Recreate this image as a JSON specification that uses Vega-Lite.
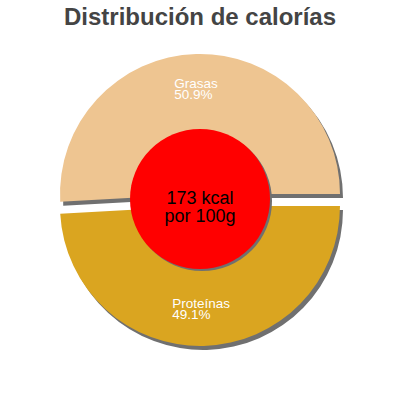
{
  "$schema": "https://vega.github.io/schema/vega-lite/v6.json",
  "width": 400,
  "height": 340,
  "padding": {"top": 6, "left": 0, "right": 0, "bottom": 0},
  "autosize": {"type": "pad"},
  "title": {
    "text": "Distribución de calorías",
    "font": "Liberation Sans",
    "fontSize": 24,
    "fontWeight": "bold",
    "color": "#444444",
    "anchor": "middle",
    "offset": 0
  },
  "config": {"view": {"stroke": null}},
  "datasets": {
    "slices": [
      {"nutrient": "Grasas", "share": 0.509},
      {"nutrient": "Proteínas", "share": 0.491}
    ],
    "energy": [
      {"label": ["173 kcal", "por 100g"]}
    ]
  },
  "layer": [
    {
      "data": {"name": "slices"},
      "mark": {"type": "arc", "outerRadius": 140, "xOffset": 3, "yOffset": -2, "fill": "#707070"},
      "encoding": {
        "theta": {"field": "share", "type": "quantitative", "stack": true, "scale": {"range": [-1.6266, 4.6566]}},
        "order": {"field": "nutrient", "type": "ordinal"},
        "opacity": {"condition": {"test": "datum.nutrient === 'Grasas'", "value": 1}, "value": 0}
      }
    },
    {
      "data": {"name": "slices"},
      "mark": {"type": "arc", "outerRadius": 140, "xOffset": 3, "yOffset": 10, "fill": "#707070"},
      "encoding": {
        "theta": {"field": "share", "type": "quantitative", "stack": true},
        "order": {"field": "nutrient", "type": "ordinal"},
        "opacity": {"condition": {"test": "datum.nutrient === 'Proteínas'", "value": 1}, "value": 0}
      }
    },
    {
      "data": {"name": "slices"},
      "mark": {"type": "arc", "outerRadius": 140, "yOffset": -6},
      "encoding": {
        "theta": {"field": "share", "type": "quantitative", "stack": true},
        "order": {"field": "nutrient", "type": "ordinal"},
        "color": {"field": "nutrient", "type": "nominal", "legend": null,
                  "scale": {"domain": ["Grasas", "Proteínas"], "range": ["#EEC591", "#DAA520"]}},
        "opacity": {"condition": {"test": "datum.nutrient === 'Grasas'", "value": 1}, "value": 0}
      }
    },
    {
      "data": {"name": "slices"},
      "mark": {"type": "arc", "outerRadius": 140, "yOffset": 6},
      "encoding": {
        "theta": {"field": "share", "type": "quantitative", "stack": true},
        "order": {"field": "nutrient", "type": "ordinal"},
        "color": {"field": "nutrient", "type": "nominal", "legend": null},
        "opacity": {"condition": {"test": "datum.nutrient === 'Proteínas'", "value": 1}, "value": 0}
      }
    },
    {
      "data": {"name": "slices"},
      "mark": {"type": "text", "radius": 100, "align": "left", "baseline": "alphabetic", "dx": -23, "dy": -11.7,
               "font": "Liberation Sans", "fontSize": 13.5, "fill": "#ffffff"},
      "encoding": {
        "theta": {"field": "share", "type": "quantitative", "stack": true},
        "order": {"field": "nutrient", "type": "ordinal"},
        "text": {"field": "nutrient"},
        "opacity": {"condition": {"test": "datum.nutrient === 'Grasas'", "value": 1}, "value": 0}
      }
    },
    {
      "data": {"name": "slices"},
      "mark": {"type": "text", "radius": 100, "align": "left", "baseline": "alphabetic", "dx": -23, "dy": -0.7,
               "font": "Liberation Sans", "fontSize": 13.5, "fill": "#ffffff"},
      "encoding": {
        "theta": {"field": "share", "type": "quantitative", "stack": true},
        "order": {"field": "nutrient", "type": "ordinal"},
        "text": {"field": "share", "format": ".1%"},
        "opacity": {"condition": {"test": "datum.nutrient === 'Grasas'", "value": 1}, "value": 0}
      }
    },
    {
      "data": {"name": "slices"},
      "mark": {"type": "text", "radius": 100, "align": "left", "baseline": "alphabetic", "dx": -30.5, "dy": 8.3,
               "font": "Liberation Sans", "fontSize": 13.5, "fill": "#ffffff"},
      "encoding": {
        "theta": {"field": "share", "type": "quantitative", "stack": true},
        "order": {"field": "nutrient", "type": "ordinal"},
        "text": {"field": "nutrient"},
        "opacity": {"condition": {"test": "datum.nutrient === 'Proteínas'", "value": 1}, "value": 0}
      }
    },
    {
      "data": {"name": "slices"},
      "mark": {"type": "text", "radius": 100, "align": "left", "baseline": "alphabetic", "dx": -30.5, "dy": 19.3,
               "font": "Liberation Sans", "fontSize": 13.5, "fill": "#ffffff"},
      "encoding": {
        "theta": {"field": "share", "type": "quantitative", "stack": true},
        "order": {"field": "nutrient", "type": "ordinal"},
        "text": {"field": "share", "format": ".1%"},
        "opacity": {"condition": {"test": "datum.nutrient === 'Proteínas'", "value": 1}, "value": 0}
      }
    },
    {
      "data": {"name": "energy"},
      "mark": {"type": "arc", "outerRadius": 70, "theta": 0, "theta2": 6.2832, "xOffset": 2, "yOffset": 1, "fill": "#707070"},
      "encoding": {}
    },
    {
      "data": {"name": "energy"},
      "mark": {"type": "arc", "outerRadius": 70, "theta": 0, "theta2": 6.2832, "yOffset": -1, "fill": "#FF0000"},
      "encoding": {}
    },
    {
      "data": {"name": "energy"},
      "mark": {"type": "text", "baseline": "middle", "align": "center", "lineHeight": 18, "yOffset": -1,
               "font": "Liberation Sans", "fontSize": 18, "fill": "#000000"},
      "encoding": {"text": {"field": "label"}}
    }
  ]
}
